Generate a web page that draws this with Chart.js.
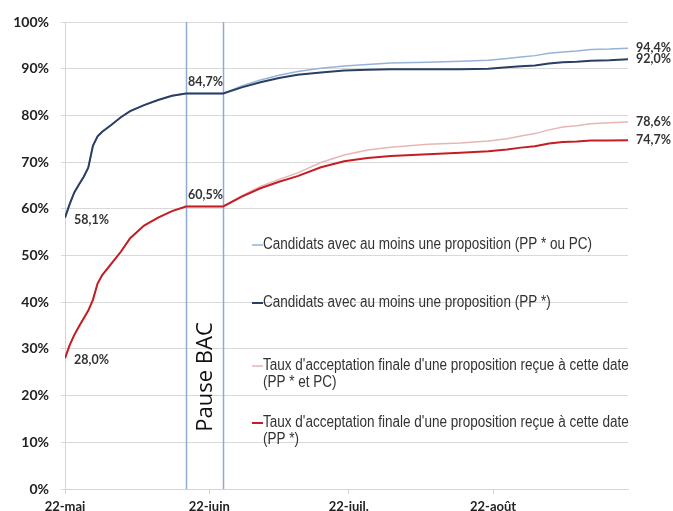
<!DOCTYPE html>
<html><head><meta charset="utf-8">
<script src="https://cdn.jsdelivr.net/npm/chart.js@4/dist/chart.umd.min.js"></script>
<style>html,body{margin:0;padding:0;background:#fff;}#wrap{width:673px;height:511px;}</style>
</head><body><div id="wrap"><canvas id="c"></canvas></div>
<script>
// days since 22-mai
const days = [0,1,2,3,4,5,6,7,8,10,12,14,17,20,23,26,34,38,42,46,50,55,60,65,70,78,85,91,95,98,101,104,107,110,113,117,121];
const ppOuPc = [58.1,61.0,63.5,65.2,66.8,68.8,73.5,75.5,76.5,78.0,79.6,80.9,82.2,83.3,84.2,84.7,84.7,86.3,87.6,88.6,89.4,90.1,90.6,90.9,91.2,91.4,91.6,91.8,92.2,92.5,92.8,93.3,93.6,93.8,94.1,94.2,94.4];
const ppOnly = [58.1,61.0,63.5,65.2,66.8,68.8,73.5,75.5,76.5,78.0,79.6,80.9,82.2,83.3,84.2,84.7,84.7,86.0,87.1,88.0,88.7,89.2,89.6,89.8,89.9,89.9,89.9,90.0,90.3,90.5,90.7,91.1,91.4,91.5,91.7,91.8,92.0];
const accPpPc = [28.0,30.8,33.0,34.8,36.5,38.2,40.5,44.0,45.8,48.3,50.8,53.7,56.4,58.1,59.5,60.5,60.5,62.8,64.8,66.3,67.7,69.9,71.5,72.6,73.2,73.8,74.1,74.5,75.0,75.6,76.1,76.9,77.5,77.8,78.2,78.4,78.6];
const accPp = [28.0,30.8,33.0,34.8,36.5,38.2,40.5,44.0,45.8,48.3,50.8,53.7,56.4,58.1,59.5,60.5,60.5,62.6,64.4,65.8,67.0,68.9,70.2,70.9,71.3,71.7,72.0,72.3,72.7,73.1,73.4,74.0,74.3,74.4,74.6,74.6,74.7];
const seriesLabels = [
  ["Candidats avec au moins une proposition (PP * ou PC)"],
  ["Candidats avec au moins une proposition (PP *)"],
  ["Taux d'acceptation finale d'une proposition reçue à cette date","(PP * et PC)"],
  ["Taux d'acceptation finale d'une proposition reçue à cette date","(PP *)"]
];
const tickDays = [0,31,61,92];
const tickLabels = ["22-mai","22-juin","22-juil.","22-août"];
const yTicks = [0,10,20,30,40,50,60,70,80,90,100];
const pauseDays = [26,34];
const pauseLabel = "Pause BAC";
const pointLabels = [
  {ds:1, i:0, text:"58,1%"}, {ds:3, i:0, text:"28,0%"},
  {ds:1, i:15, text:"84,7%"}, {ds:3, i:15, text:"60,5%"},
  {ds:0, i:36, text:"94,4%"}, {ds:1, i:36, text:"92,0%"},
  {ds:2, i:36, text:"78,6%"}, {ds:3, i:36, text:"74,7%"}
];

const colors = ['#95b3d7','#2b3f62','#e8b5b5','#c41e24'];
const widths = [1.5,2,1.5,2];
const vals = [ppOuPc, ppOnly, accPpPc, accPp];
const orders = [2,1,2,1];

const datasets = vals.map((v,k)=>({
  label: seriesLabels[k].join(' '),
  data: days.map((d,i)=>({x:d,y:v[i]})),
  borderColor: colors[k], backgroundColor: colors[k],
  borderWidth: widths[k], pointRadius:0, tension:0, order: orders[k]
}));

const overlay = {
  id:'overlay',
  beforeDatasetsDraw(chart){
    const {ctx, chartArea:a, scales:{x}} = chart;
    ctx.save();
    ctx.strokeStyle = '#8eaad6'; ctx.lineWidth = 1.5;
    pauseDays.forEach(d=>{
      const px = Math.round(x.getPixelForValue(d))+0.5;
      ctx.beginPath(); ctx.moveTo(px,a.top); ctx.lineTo(px,a.bottom); ctx.stroke();
    });
    ctx.restore();
  },
  afterDatasetsDraw(chart){
    const {ctx, scales:{x,y}} = chart;
    ctx.save();
    // Pause BAC
    const cx = (x.getPixelForValue(pauseDays[0])+x.getPixelForValue(pauseDays[1]))/2 + 1;
    ctx.translate(cx, 377); ctx.rotate(-Math.PI/2);
    ctx.fillStyle = '#111'; ctx.font = '22px "Open Sans", sans-serif';
    ctx.textAlign='center'; ctx.textBaseline='middle';
    ctx.fillText(pauseLabel,0,0);
    ctx.restore();
    // point labels
    ctx.save();
    ctx.font = 'bold 12.5px Lato, sans-serif'; ctx.fillStyle='#333'; ctx.textBaseline='middle';
    pointLabels.forEach(p=>{
      const px = x.getPixelForValue(days[p.i]);
      const py = y.getPixelForValue(vals[p.ds][p.i]);
      ctx.textAlign='left';
      if (p.i===0) ctx.fillText(p.text, px+9, py+2);
      else if (p.i===15) ctx.fillText(p.text, px+2, py-11);
      else ctx.fillText(p.text, px+8, py);
    });
    ctx.restore();
    // legend
    ctx.save();
    const rows = [245,303,366,423];
    ctx.font = '16px "Liberation Sans", Arial, sans-serif';
    const sx = 329 / ctx.measureText(seriesLabels[0][0]).width;
    ctx.textBaseline='middle'; ctx.textAlign='left';
    rows.forEach((ry,k)=>{
      ctx.strokeStyle = colors[k]; ctx.lineWidth = widths[k];
      ctx.beginPath(); ctx.moveTo(252,ry); ctx.lineTo(263,ry); ctx.stroke();
      ctx.fillStyle='#333';
      seriesLabels[k].forEach((t,j)=>{
        ctx.save(); ctx.translate(263, ry+j*17); ctx.scale(sx,1);
        ctx.fillText(t,0,0); ctx.restore();
      });
    });
    ctx.restore();
  }
};

new Chart(document.getElementById('c'),{
  type:'line',
  data:{datasets},
  options:{
    responsive:true, maintainAspectRatio:false, animation:false,
    layout:{padding:{top:22,right:45,left:0,bottom:0}},
    plugins:{legend:{display:false},tooltip:{enabled:false}},
    scales:{
      x:{type:'linear',min:0,max:121,
        afterBuildTicks(s){ s.ticks = tickDays.map(v=>({value:v})); },
        afterFit(s){ s.height = 22; },
        ticks:{autoSkip:false,maxRotation:0,padding:5,color:'#222',font:{family:'Lato',weight:'bold',size:13},
          callback(v){ const k=tickDays.indexOf(v); return k>=0?tickLabels[k]:''; }},
        grid:{drawOnChartArea:false,drawTicks:true,tickLength:5,color:'#d4d4d4'},
        border:{display:true,color:'#d4d4d4'}
      },
      y:{min:0,max:100,
        afterBuildTicks(s){ s.ticks = yTicks.map(v=>({value:v})); },
        afterFit(s){ s.width = 65; },
        ticks:{padding:12,color:'#222',font:{family:'Lato',weight:'bold',size:14},callback:v=>v+'%'},
        grid:{color:'#d9d9d9',tickLength:4,lineWidth:1},
        border:{display:true,color:'#d4d4d4'}
      }
    }
  },
  plugins:[overlay]
});
</script></body></html>
